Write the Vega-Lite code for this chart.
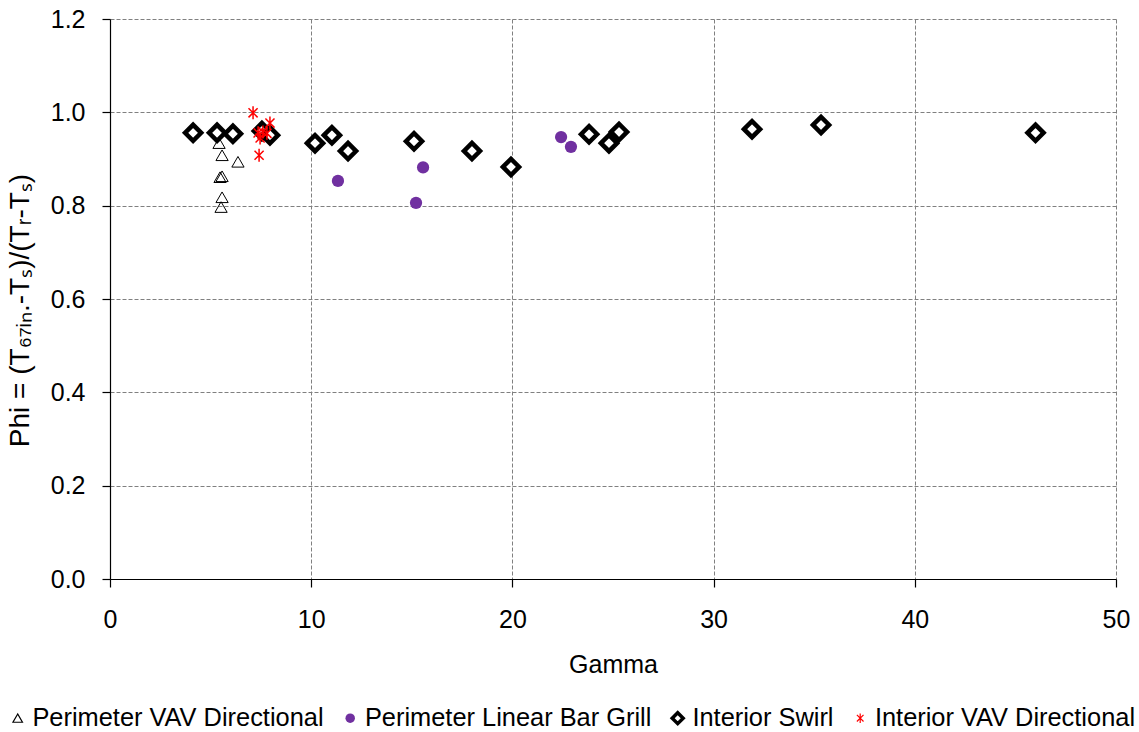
{
  "$schema": "https://vega.github.io/schema/vega-lite/v6.json",
  "width": 1006,
  "height": 560,
  "autosize": {"type": "none"},
  "padding": {"left": 110, "top": 19, "right": 23, "bottom": 153},
  "background": "white",
  "config": {
    "font": "Liberation Sans",
    "view": {"stroke": null},
    "axis": {
      "labelFont": "Liberation Sans",
      "titleFont": "Liberation Sans",
      "labelFontSize": 25,
      "titleFontSize": 25,
      "labelColor": "black",
      "titleColor": "black",
      "titleFontWeight": "normal",
      "labelFlush": false,
      "domainColor": "black",
      "domainWidth": 1.2,
      "tickColor": "black",
      "tickWidth": 1.2,
      "tickSize": 8,
      "gridColor": "#808080",
      "gridDash": [4, 2],
      "gridWidth": 1,
      "gridOpacity": 1
    },
    "legend": {
      "labelFont": "Liberation Sans",
      "labelFontSize": 25.4,
      "labelColor": "black",
      "labelLimit": 0
    }
  },
  "data": {
    "values": [
      {"gamma": 5.42, "phi": 0.934, "series": "Perimeter VAV Directional"},
      {"gamma": 5.57, "phi": 0.908, "series": "Perimeter VAV Directional"},
      {"gamma": 6.36, "phi": 0.894, "series": "Perimeter VAV Directional"},
      {"gamma": 5.47, "phi": 0.861, "series": "Perimeter VAV Directional"},
      {"gamma": 5.57, "phi": 0.863, "series": "Perimeter VAV Directional"},
      {"gamma": 5.57, "phi": 0.818, "series": "Perimeter VAV Directional"},
      {"gamma": 5.52, "phi": 0.797, "series": "Perimeter VAV Directional"},
      {"gamma": 11.33, "phi": 0.853, "series": "Perimeter Linear Bar Grill"},
      {"gamma": 15.56, "phi": 0.882, "series": "Perimeter Linear Bar Grill"},
      {"gamma": 15.21, "phi": 0.806, "series": "Perimeter Linear Bar Grill"},
      {"gamma": 22.42, "phi": 0.947, "series": "Perimeter Linear Bar Grill"},
      {"gamma": 22.91, "phi": 0.926, "series": "Perimeter Linear Bar Grill"},
      {"gamma": 4.13, "phi": 0.956, "series": "Interior Swirl"},
      {"gamma": 5.32, "phi": 0.956, "series": "Interior Swirl"},
      {"gamma": 6.11, "phi": 0.954, "series": "Interior Swirl"},
      {"gamma": 7.55, "phi": 0.96, "series": "Interior Swirl"},
      {"gamma": 7.95, "phi": 0.951, "series": "Interior Swirl"},
      {"gamma": 10.19, "phi": 0.934, "series": "Interior Swirl"},
      {"gamma": 11.03, "phi": 0.951, "series": "Interior Swirl"},
      {"gamma": 11.83, "phi": 0.917, "series": "Interior Swirl"},
      {"gamma": 15.11, "phi": 0.938, "series": "Interior Swirl"},
      {"gamma": 17.99, "phi": 0.917, "series": "Interior Swirl"},
      {"gamma": 19.93, "phi": 0.883, "series": "Interior Swirl"},
      {"gamma": 23.81, "phi": 0.953, "series": "Interior Swirl"},
      {"gamma": 24.8, "phi": 0.934, "series": "Interior Swirl"},
      {"gamma": 25.3, "phi": 0.958, "series": "Interior Swirl"},
      {"gamma": 31.91, "phi": 0.964, "series": "Interior Swirl"},
      {"gamma": 35.34, "phi": 0.973, "series": "Interior Swirl"},
      {"gamma": 46.0, "phi": 0.956, "series": "Interior Swirl"},
      {"gamma": 7.11, "phi": 0.999, "series": "Interior VAV Directional"},
      {"gamma": 7.95, "phi": 0.977, "series": "Interior VAV Directional"},
      {"gamma": 7.36, "phi": 0.956, "series": "Interior VAV Directional"},
      {"gamma": 7.6, "phi": 0.958, "series": "Interior VAV Directional"},
      {"gamma": 7.46, "phi": 0.945, "series": "Interior VAV Directional"},
      {"gamma": 7.8, "phi": 0.955, "series": "Interior VAV Directional"},
      {"gamma": 7.41, "phi": 0.908, "series": "Interior VAV Directional"}
    ]
  },
  "mark": {"type": "point", "filled": true, "strokeJoin": "miter", "opacity": 1},
  "encoding": {
    "x": {
      "field": "gamma",
      "type": "quantitative",
      "scale": {"domain": [0, 50], "nice": false, "zero": false},
      "axis": {
        "title": "Gamma",
        "values": [0, 10, 20, 30, 40, 50],
        "labelPadding": 20,
        "titlePadding": 20,
        "grid": true
      }
    },
    "y": {
      "field": "phi",
      "type": "quantitative",
      "scale": {"domain": [0, 1.2], "nice": false, "zero": false},
      "axis": {
        "title": "Phi = (T₆₇ᵢₙ.-Tₛ)/(Tᵣ-Tₛ)",
        "values": [0, 0.2, 0.4, 0.6, 0.8, 1.0, 1.2],
        "format": ".1f",
        "labelPadding": 17,
        "titlePadding": 16,
        "titleFontSize": 28,
        "titleY": 291,
        "grid": true
      }
    },
    "shape": {
      "field": "series",
      "type": "nominal",
      "scale": {
        "domain": ["Perimeter VAV Directional", "Perimeter Linear Bar Grill", "Interior Swirl", "Interior VAV Directional"],
        "range": ["triangle-up", "circle", "diamond", "M-0.7,-0.7L0.7,0.7M-0.7,0.7L0.7,-0.7M0,-1L0,1"]
      },
      "legend": {
        "title": null,
        "orient": "none",
        "direction": "horizontal",
        "columns": 4,
        "legendX": -105,
        "legendY": 686,
        "labelOffset": 2,
        "columnPadding": 13.5,
        "symbolSize": {"expr": "datum.value === 'Interior Swirl' ? 120 : 90"},
        "symbolStrokeWidth": {"expr": "datum.value === 'Interior Swirl' ? 3.5 : datum.value === 'Perimeter Linear Bar Grill' ? 0 : 1.2"}
      }
    },
    "fill": {
      "field": "series",
      "type": "nominal",
      "scale": {
        "domain": ["Perimeter VAV Directional", "Perimeter Linear Bar Grill", "Interior Swirl", "Interior VAV Directional"],
        "range": ["transparent", "#7030A0", "white", "transparent"]
      },
      "legend": {
        "title": null,
        "orient": "none",
        "direction": "horizontal",
        "columns": 4,
        "legendX": -105,
        "legendY": 686,
        "labelOffset": 2,
        "columnPadding": 13.5,
        "symbolSize": {"expr": "datum.value === 'Interior Swirl' ? 120 : 90"},
        "symbolStrokeWidth": {"expr": "datum.value === 'Interior Swirl' ? 3.5 : datum.value === 'Perimeter Linear Bar Grill' ? 0 : 1.2"}
      }
    },
    "stroke": {
      "field": "series",
      "type": "nominal",
      "scale": {
        "domain": ["Perimeter VAV Directional", "Perimeter Linear Bar Grill", "Interior Swirl", "Interior VAV Directional"],
        "range": ["black", "#7030A0", "black", "#FF0000"]
      },
      "legend": {
        "title": null,
        "orient": "none",
        "direction": "horizontal",
        "columns": 4,
        "legendX": -105,
        "legendY": 686,
        "labelOffset": 2,
        "columnPadding": 13.5,
        "symbolSize": {"expr": "datum.value === 'Interior Swirl' ? 120 : 90"},
        "symbolStrokeWidth": {"expr": "datum.value === 'Interior Swirl' ? 3.5 : datum.value === 'Perimeter Linear Bar Grill' ? 0 : 1.2"}
      }
    },
    "strokeWidth": {
      "condition": [
        {"test": "datum.series === 'Interior Swirl'", "value": 4.5},
        {"test": "datum.series === 'Perimeter Linear Bar Grill'", "value": 0},
        {"test": "datum.series === 'Interior VAV Directional'", "value": 1.5}
      ],
      "value": 1
    },
    "size": {
      "condition": [
        {"test": "datum.series === 'Interior Swirl'", "value": 260},
        {"test": "datum.series === 'Interior VAV Directional'", "value": 169}
      ],
      "value": 150
    }
  }
}
